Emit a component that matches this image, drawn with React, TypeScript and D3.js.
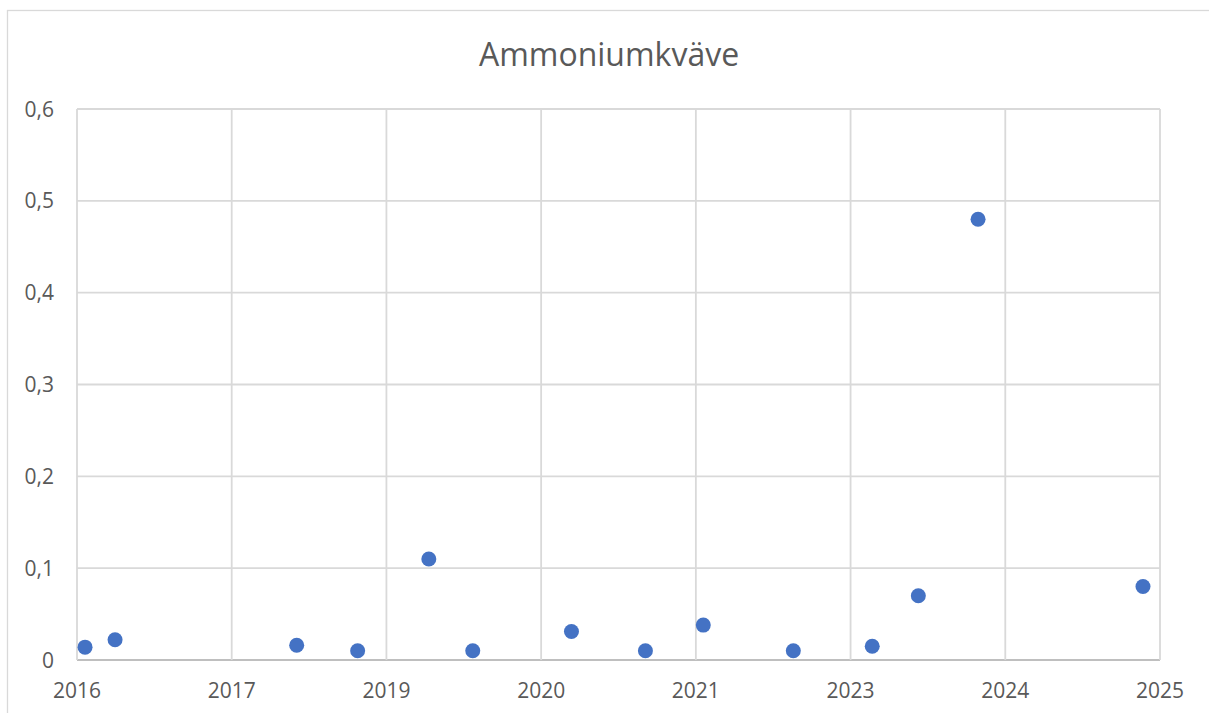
import React from "react";
import * as d3 from "d3";

const title = "Ammoniumkväve";

// sample dates and values (mg/l)
const sampleDates = [
  "2016-05-16", "2016-08-21", "2018-03-31", "2018-10-14", "2019-06-01",
  "2019-10-21", "2020-09-04", "2021-05-01", "2021-11-04", "2022-08-22",
  "2023-05-04", "2023-09-30", "2024-04-10", "2025-09-25",
];
const sampleValues = [
  0.014, 0.022, 0.016, 0.01, 0.11,
  0.01, 0.031, 0.01, 0.038, 0.01,
  0.015, 0.07, 0.48, 0.08,
];

// Excel date axis: starts 2016-04-20, major unit 500 days
const axisStart = "2016-04-20";
const majorUnitDays = 500;
const xTickLabels = ["2016", "2017", "2019", "2020", "2021", "2023", "2024", "2025"];
const yTicks = [0, 0.1, 0.2, 0.3, 0.4, 0.5, 0.6];

const W = 1209;
const H = 713;
const left = 77;
const right = 1160;
const top = 109;
const bottom = 660;

const App: React.FC = () => {
  const parse = d3.utcParse("%Y-%m-%d");
  const t0 = parse(axisStart)!;
  const tickDates = xTickLabels.map((_, i) => d3.utcDay.offset(t0, i * majorUnitDays));

  const x = d3.scaleUtc()
    .domain([tickDates[0], tickDates[tickDates.length - 1]])
    .range([left, right]);
  const y = d3.scaleLinear().domain([0, 0.6]).range([bottom, top]);
  const fmt = (v: number) => d3.format("~g")(v).replace(".", ",");

  const points = sampleDates.map((d, i) => ({ date: parse(d)!, value: sampleValues[i] }));
  const font = "'Open Sans', sans-serif";

  return (
    <svg width={W} height={H} style={{ position: "absolute", left: 0, top: 0 }}>
      <rect x={0} y={0} width={W} height={H} fill="#fff" />
      {/* chart area border (extends past the window) */}
      <rect x={7.5} y={10.5} width={W + 20} height={H + 20} fill="none" stroke="#d9d9d9" strokeWidth={1.3} />

      <text x={609} y={66} textAnchor="middle" fontFamily={font} fontSize={32} fill="#595959">
        {title}
      </text>

      {/* horizontal gridlines */}
      {yTicks.map((t) => (
        <line key={"h" + t} x1={left} x2={right} y1={y(t)} y2={y(t)}
          stroke={t === 0 ? "#bfbfbf" : "#d9d9d9"} strokeWidth={1.8} />
      ))}
      {/* vertical gridlines */}
      {tickDates.map((d, i) => (
        <line key={"v" + i} x1={x(d)} x2={x(d)} y1={top} y2={bottom}
          stroke="#d9d9d9" strokeWidth={1.8} />
      ))}

      {yTicks.map((t) => (
        <text key={"yl" + t} x={54} y={y(t)} dy="0.36em" textAnchor="end"
          fontFamily={font} fontSize={21} fill="#595959">
          {fmt(t)}
        </text>
      ))}
      {tickDates.map((d, i) => (
        <text key={"xl" + i} x={x(d)} y={698} textAnchor="middle"
          fontFamily={font} fontSize={21} fill="#595959">
          {xTickLabels[i]}
        </text>
      ))}

      {points.map((p, i) => (
        <circle key={i} cx={x(p.date)} cy={y(p.value)} r={7.5} fill="#4472C4" />
      ))}
    </svg>
  );
};

export default App;
